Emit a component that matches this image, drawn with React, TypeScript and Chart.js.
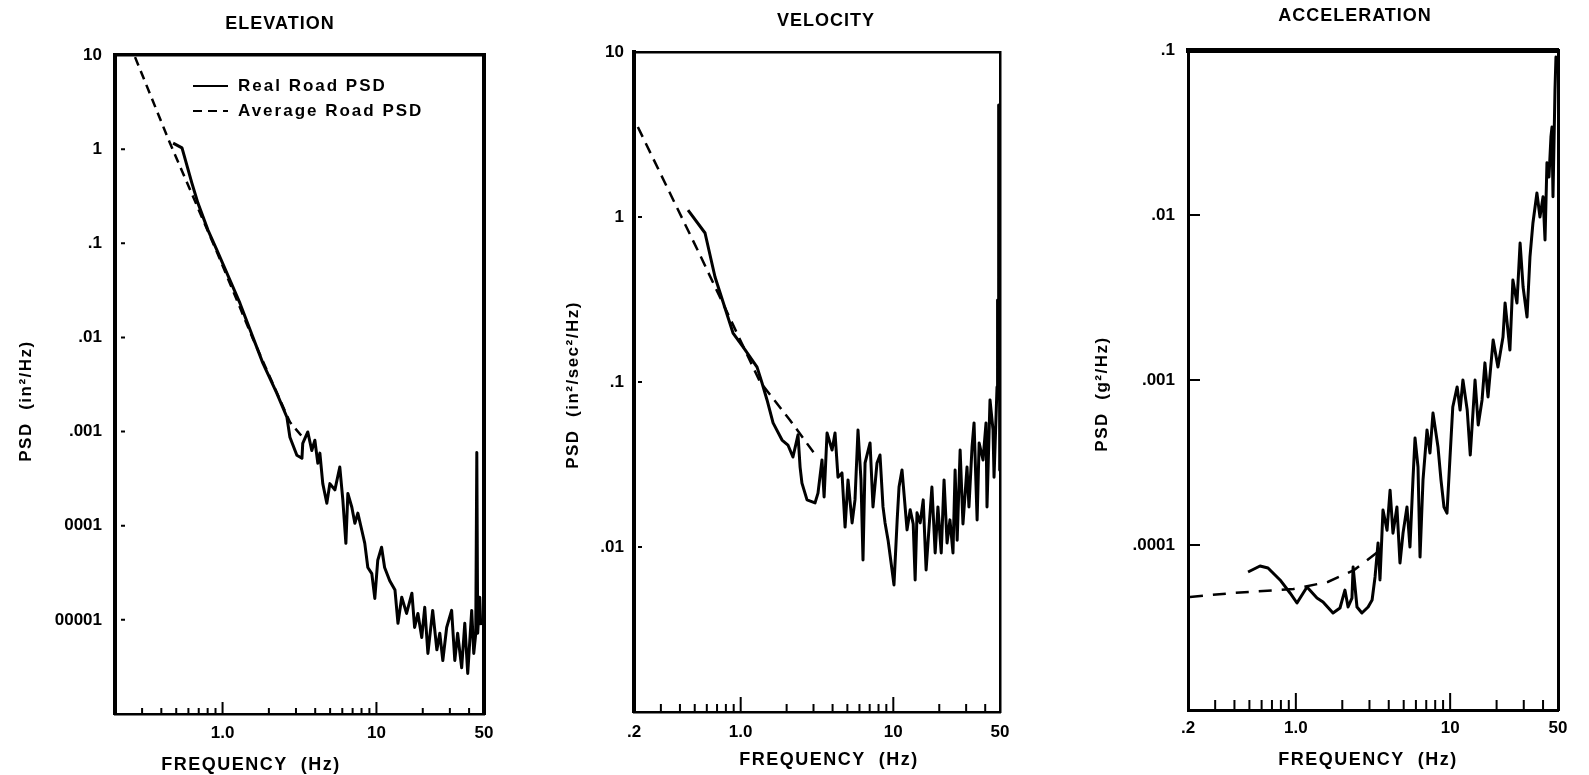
import React, { useEffect, useRef } from 'react';
import { Chart, registerables } from 'chart.js';
Chart.register(...registerables);

const FAMILY = '"Liberation Sans", Arial, sans-serif';

// ---------- Elevation ----------
const elevRealFreq = [0.477, 0.545, 0.632, 0.692, 0.804, 0.919, 1.117, 1.297, 1.574, 1.828, 2.25, 2.62, 2.74, 3.04, 3.28, 3.32, 3.58, 3.80, 3.98, 4.16, 4.29, 4.48, 4.76, 4.98, 5.37, 5.78, 6.05, 6.33, 6.52, 6.92, 7.24, 7.57, 8.04, 8.40, 8.79, 9.33, 9.76, 10.2, 10.8, 11.3, 12.2, 13.2, 13.8, 14.6, 15.7, 17.0, 17.7, 18.6, 19.7, 20.6, 21.6, 23.2, 24.7, 25.8, 27.0, 28.6, 30.8, 32.3, 33.7, 35.8, 37.5, 39.2, 41.6, 42.9, 44.2, 44.9, 45.5, 46.9, 47.6];
const elevRealPsd = [1.16, 1.03, 0.436, 0.267, 0.138, 0.0848, 0.0406, 0.0231, 0.01007, 0.00533, 0.00256, 0.00142, 8.7e-4, 5.6e-4, 5.2e-4, 7.5e-4, 9.9e-4, 6.3e-4, 8.1e-4, 4.6e-4, 5.9e-4, 2.8e-4, 1.73e-4, 2.8e-4, 2.4e-4, 4.2e-4, 1.87e-4, 6.5e-5, 2.2e-4, 1.57e-4, 1.06e-4, 1.36e-4, 8.9e-5, 6.5e-5, 3.6e-5, 3.1e-5, 1.69e-5, 4.3e-5, 5.9e-5, 3.6e-5, 2.6e-5, 2.07e-5, 9.2e-6, 1.74e-5, 1.17e-5, 1.92e-5, 8.3e-6, 1.17e-5, 6.5e-6, 1.36e-5, 4.4e-6, 1.26e-5, 4.8e-6, 7.2e-6, 3.7e-6, 8.3e-6, 1.26e-5, 3.7e-6, 7.2e-6, 3.1e-6, 9.2e-6, 2.7e-6, 1.26e-5, 4.4e-6, 7.2e-6, 6.0e-4, 7.2e-6, 1.74e-5, 8.8e-6];
const elevAvgFreq = [0.27, 0.455, 0.919, 1.574, 2.74, 3.32];
const elevAvgPsd = [9.5, 1.16, 0.0808, 0.0097, 1.26e-3, 8.7e-4];

// ---------- Velocity ----------
const velRealFreq = [0.452, 0.584, 0.679, 0.891, 1.036, 1.28, 1.38, 1.488, 1.63, 1.866, 2.04, 2.20, 2.375, 2.45, 2.52, 2.72, 3.07, 3.21, 3.41, 3.52, 3.68, 3.97, 4.15, 4.34, 4.61, 4.83, 5.05, 5.37, 5.61, 5.87, 6.14, 6.33, 6.53, 7.04, 7.36, 7.82, 8.18, 8.56, 8.83, 9.24, 9.81, 10.1, 10.6, 10.9, 11.4, 11.8, 12.3, 12.9, 13.5, 13.9, 14.3, 15.0, 15.7, 16.4, 17.1, 17.9, 18.8, 19.6, 20.6, 21.5, 22.5, 23.5, 24.6, 25.4, 26.2, 27.4, 28.6, 30.4, 31.3, 32.8, 33.8, 35.4, 36.5, 38.7, 40.5, 41.1, 43.0, 45.0, 45.7, 47.8, 48.2, 48.6, 49.0, 49.4, 49.7, 49.85, 50];
const velRealPsd = [1.10, 0.80, 0.433, 0.198, 0.163, 0.123, 0.0986, 0.0778, 0.0565, 0.0445, 0.0415, 0.0351, 0.0478, 0.0305, 0.0244, 0.0193, 0.0185, 0.0212, 0.0337, 0.0201, 0.0491, 0.0387, 0.0491, 0.0265, 0.0281, 0.0132, 0.0255, 0.0140, 0.0193, 0.0512, 0.0255, 0.00834, 0.0323, 0.0427, 0.0175, 0.0323, 0.0361, 0.0175, 0.0140, 0.0110, 0.00726, 0.00589, 0.0146, 0.0231, 0.0293, 0.0201, 0.0127, 0.0168, 0.0138, 0.00631, 0.0161, 0.0140, 0.0193, 0.00726, 0.0127, 0.0231, 0.0092, 0.0175, 0.0092, 0.0255, 0.01057, 0.0146, 0.0092, 0.0293, 0.0110, 0.0387, 0.0138, 0.0305, 0.0175, 0.0404, 0.0565, 0.0146, 0.0427, 0.0337, 0.0565, 0.0175, 0.0778, 0.0512, 0.0265, 0.0933, 0.314, 0.136, 4.77, 4.45, 0.238, 0.0293, 0.207];
const velAvgFreq = [0.212, 0.541, 1.34, 2.10, 3.16];
const velAvgPsd = [3.51, 0.589, 0.1, 0.0589, 0.0351];

// ---------- Acceleration ----------
const accRealFreq = [0.490, 0.586, 0.660, 0.790, 0.917, 1.017, 1.181, 1.371, 1.50, 1.741, 1.932, 2.08, 2.18, 2.31, 2.35, 2.49, 2.68, 2.94, 3.12, 3.26, 3.41, 3.51, 3.67, 3.90, 4.08, 4.26, 4.52, 4.73, 4.95, 5.25, 5.49, 5.74, 5.92, 6.19, 6.38, 6.67, 7.08, 7.40, 7.74, 8.34, 8.72, 9.12, 9.54, 9.98, 10.4, 11.1, 11.6, 12.1, 12.9, 13.5, 14.5, 15.2, 16.1, 16.8, 17.6, 19.0, 20.4, 22.0, 22.7, 24.4, 25.5, 27.1, 28.4, 29.7, 31.5, 32.9, 34.4, 36.5, 38.2, 40.0, 41.2, 42.4, 43.7, 45.0, 45.7, 46.4, 47.8, 48.5, 50];
const accRealPsd = [6.86e-5, 7.46e-5, 7.26e-5, 6.14e-5, 5.12e-5, 4.45e-5, 5.56e-5, 4.77e-5, 4.52e-5, 3.87e-5, 4.15e-5, 5.33e-5, 4.21e-5, 4.77e-5, 7.36e-5, 4.21e-5, 3.87e-5, 4.21e-5, 4.64e-5, 6.40e-5, 1.03e-4, 6.14e-5, 1.63e-4, 1.23e-4, 2.15e-4, 1.18e-4, 1.70e-4, 7.78e-5, 1.18e-4, 1.70e-4, 9.72e-5, 2.48e-4, 4.45e-4, 2.97e-4, 8.45e-5, 2.48e-4, 4.98e-4, 3.61e-4, 6.31e-4, 3.93e-4, 2.48e-4, 1.70e-4, 1.56e-4, 3.41e-4, 6.86e-4, 9.08e-4, 6.58e-4, 1.0e-3, 6.58e-4, 3.51e-4, 1.0e-3, 5.34e-4, 7.57e-4, 1.27e-3, 7.89e-4, 1.75e-3, 1.20e-3, 1.82e-3, 2.93e-3, 1.52e-3, 4.04e-3, 2.93e-3, 6.76e-3, 3.66e-3, 2.41e-3, 5.56e-3, 8.95e-3, 1.36e-2, 9.73e-3, 1.29e-2, 7.05e-3, 2.07e-2, 1.70e-2, 2.97e-2, 3.41e-2, 1.29e-2, 5.72e-2, 9.07e-2, 8.7e-2];
const accAvgFreq = [0.206, 0.393, 0.966, 1.61, 2.38, 3.40];
const accAvgPsd = [4.84e-5, 5.12e-5, 5.41e-5, 5.97e-5, 7.05e-5, 9.08e-5];

// ---------- ticks ----------
const freqTickValues = [0.2, 1, 10, 50];
const freqTickLabels = ['.2', '1.0', '10', '50'];
const minorFreqTicks = [0.3, 0.4, 0.5, 0.6, 0.7, 0.8, 0.9, 2, 3, 4, 5, 6, 7, 8, 9, 20, 30, 40];
const majorFreqTicks = [1, 10];
const elevYTickValues = [10, 1, 0.1, 0.01, 0.001, 0.0001, 0.00001];
const elevYTickLabels = ['10', '1', '.1', '.01', '.001', '0001', '00001'];
const velYTickValues = [10, 1, 0.1, 0.01];
const velYTickLabels = ['10', '1', '.1', '.01'];
const accYTickValues = [0.1, 0.01, 0.001, 0.0001];
const accYTickLabels = ['.1', '.01', '.001', '.0001'];

const seriesLabels = ['Real Road PSD', 'Average Road PSD'];

const W = 1589;
const H = 775;
const AXIS = 60;

const PANELS = [
  {
    title: 'ELEVATION', titlePos: [280, 24],
    xTitlePos: [251, 765], yTitle: 'PSD  (in\u00B2/Hz)', yTitlePos: [26, 401],
    area: { left: 115, top: 55, right: 484, bottom: 714 },
    yMin: 1e-6, yMax: 10,
    realF: elevRealFreq, realV: elevRealPsd, avgF: elevAvgFreq, avgV: elevAvgPsd,
    xTicks: [1, 10, 50], yTicks: elevYTickValues, yLabels: elevYTickLabels,
    yMarks: [1, 0.1, 0.01, 0.001, 0.0001, 0.00001], yMarkStart: 6, yMarkLen: 4,
    minorLen: 6, majorLen: 12, xPad: 9, yPad: 13,
    dash: [9, 6],
    borders: { left: 4, top: 3.5, right: 4, bottom: 2.5 },
    legend: true,
  },
  {
    title: 'VELOCITY', titlePos: [826, 21],
    xTitlePos: [829, 760], yTitle: 'PSD  (in\u00B2/sec\u00B2/Hz)', yTitlePos: [573, 385],
    area: { left: 634, top: 52, right: 1000, bottom: 712 },
    yMin: 1e-3, yMax: 10,
    realF: velRealFreq, realV: velRealPsd, avgF: velAvgFreq, avgV: velAvgPsd,
    xTicks: freqTickValues, yTicks: velYTickValues, yLabels: velYTickLabels,
    yMarks: [1, 0.1, 0.01], yMarkStart: 4, yMarkLen: 4,
    minorLen: 8, majorLen: 15, xPad: 10, yPad: 10,
    dash: [11, 7],
    borders: { left: 4, top: 2.5, right: 2.5, bottom: 2.5 },
    legend: false,
  },
  {
    title: 'ACCELERATION', titlePos: [1355, 16],
    xTitlePos: [1368, 760], yTitle: 'PSD  (g\u00B2/Hz)', yTitlePos: [1102, 394],
    area: { left: 1188, top: 50, right: 1558, bottom: 710 },
    yMin: 1e-5, yMax: 0.1,
    realF: accRealFreq, realV: accRealPsd, avgF: accAvgFreq, avgV: accAvgPsd,
    xTicks: freqTickValues, yTicks: accYTickValues, yLabels: accYTickLabels,
    yMarks: [0.01, 0.001, 0.0001], yMarkStart: 0, yMarkLen: 12,
    minorLen: 10, majorLen: 17, xPad: 8, yPad: 13,
    dash: [13, 10],
    borders: { left: 3, top: 5, right: 3, bottom: 3 },
    legend: false,
  },
];

function toPoints(xs: number[], ys: number[]) {
  return xs.map((x, i) => ({ x, y: ys[i] }));
}

function freqLabel(v: number) {
  const i = freqTickValues.indexOf(v);
  return i >= 0 ? freqTickLabels[i] : '';
}

function decorPlugin(p: any) {
  return {
    id: 'decor' + p.title,
    afterDatasetsDraw(chart: any) {
      const { ctx, chartArea: a, scales } = chart;
      const xs = scales.x;
      const ys = scales.y;
      ctx.save();
      ctx.strokeStyle = '#000';
      ctx.lineWidth = 2;
      ctx.setLineDash([]);
      ctx.beginPath();
      for (const v of minorFreqTicks) {
        const px = xs.getPixelForValue(v);
        ctx.moveTo(px, a.bottom);
        ctx.lineTo(px, a.bottom - p.minorLen);
      }
      for (const v of majorFreqTicks) {
        const px = xs.getPixelForValue(v);
        ctx.moveTo(px, a.bottom);
        ctx.lineTo(px, a.bottom - p.majorLen);
      }
      for (const v of p.yMarks) {
        const py = ys.getPixelForValue(v);
        ctx.moveTo(a.left + p.yMarkStart, py);
        ctx.lineTo(a.left + p.yMarkStart + p.yMarkLen, py);
      }
      ctx.stroke();

      ctx.fillStyle = '#000';
      ctx.textAlign = 'center';
      ctx.textBaseline = 'middle';
      ctx.font = `bold 18px ${FAMILY}`;
      (ctx as any).letterSpacing = '1px';
      ctx.fillText(p.title, p.titlePos[0], p.titlePos[1]);
      ctx.font = `bold 18px ${FAMILY}`;
      (ctx as any).letterSpacing = '1.5px';
      ctx.fillText('FREQUENCY  (Hz)', p.xTitlePos[0], p.xTitlePos[1]);
      ctx.save();
      ctx.translate(p.yTitlePos[0], p.yTitlePos[1]);
      ctx.rotate(-Math.PI / 2);
      ctx.font = `bold 17px ${FAMILY}`;
      (ctx as any).letterSpacing = '1.5px';
      ctx.fillText(p.yTitle, 0, 0);
      ctx.restore();

      if (p.legend) {
        const items = chart.data.datasets;
        const lx = a.left + 78;
        const ly = a.top + 31;
        items.forEach((ds: any, i: number) => {
          const y = ly + i * 25;
          ctx.save();
          ctx.strokeStyle = '#000';
          ctx.lineWidth = 2.2;
          ctx.setLineDash(ds.borderDash || []);
          ctx.beginPath();
          ctx.moveTo(lx, y);
          ctx.lineTo(lx + 35, y);
          ctx.stroke();
          ctx.restore();
          ctx.textAlign = 'left';
          ctx.font = `bold 17px ${FAMILY}`;
          (ctx as any).letterSpacing = '2px';
          ctx.fillText(ds.label, lx + 45, y);
        });
      }
      ctx.restore();
    },
  };
}

function makeChart(canvas: HTMLCanvasElement, p: any) {
  const tickFont = { family: FAMILY, size: 17, weight: 'bold' as const };
  return new Chart(canvas, {
    type: 'line',
    data: {
      datasets: [
        {
          label: seriesLabels[0],
          data: toPoints(p.realF, p.realV),
          borderColor: '#000',
          borderWidth: 3,
          pointRadius: 0,
          tension: 0,
          fill: false,
          borderJoinStyle: 'round',
        },
        {
          label: seriesLabels[1],
          data: toPoints(p.avgF, p.avgV),
          borderColor: '#000',
          borderWidth: 2.5,
          borderDash: p.dash,
          pointRadius: 0,
          tension: 0,
          fill: false,
        },
      ],
    },
    options: {
      responsive: false,
      animation: false,
      devicePixelRatio: 1,
      events: [],
      layout: {
        padding: {
          left: p.area.left - AXIS,
          top: p.area.top,
          right: W - p.area.right,
          bottom: H - p.area.bottom - AXIS,
        },
      },
      plugins: {
        legend: { display: false },
        title: { display: false },
        tooltip: { enabled: false },
      },
      scales: {
        x: {
          type: 'logarithmic',
          position: 'bottom',
          min: 0.2,
          max: 50,
          afterFit: (s: any) => { s.height = AXIS; },
          afterBuildTicks: (s: any) => { s.ticks = p.xTicks.map((v: number) => ({ value: v })); },
          ticks: {
            callback: (v: any) => freqLabel(Number(v)),
            font: tickFont,
            color: '#000',
            padding: p.xPad,
            maxRotation: 0,
            autoSkip: false,
          },
          grid: { display: false, drawTicks: false },
          border: { display: true, width: p.borders.bottom, color: '#000' },
        },
        y: {
          type: 'logarithmic',
          position: 'left',
          min: p.yMin,
          max: p.yMax,
          afterFit: (s: any) => { s.width = AXIS; },
          afterBuildTicks: (s: any) => { s.ticks = p.yTicks.map((v: number) => ({ value: v })); },
          ticks: {
            callback: (v: any) => {
              const i = p.yTicks.indexOf(Number(v));
              return i >= 0 ? p.yLabels[i] : '';
            },
            font: tickFont,
            color: '#000',
            padding: p.yPad,
            autoSkip: false,
          },
          grid: { display: false, drawTicks: false },
          border: { display: true, width: p.borders.left, color: '#000' },
        },
        x2: {
          type: 'linear',
          position: 'top',
          min: 0,
          max: 1,
          afterFit: (s: any) => { s.height = 0; },
          ticks: { display: false },
          grid: { display: false, drawTicks: false },
          border: { display: true, width: p.borders.top, color: '#000' },
        },
        y2: {
          type: 'linear',
          position: 'right',
          min: 0,
          max: 1,
          afterFit: (s: any) => { s.width = 0; },
          ticks: { display: false },
          grid: { display: false, drawTicks: false },
          border: { display: true, width: p.borders.right, color: '#000' },
        },
      },
    } as any,
    plugins: [decorPlugin(p)],
  });
}

export default function App() {
  const r1 = useRef<HTMLCanvasElement>(null);
  const r2 = useRef<HTMLCanvasElement>(null);
  const r3 = useRef<HTMLCanvasElement>(null);

  useEffect(() => {
    const refs = [r1, r2, r3];
    const charts = refs.map((r, i) => makeChart(r.current as HTMLCanvasElement, PANELS[i]));
    return () => charts.forEach((c) => c.destroy());
  }, []);

  const style: React.CSSProperties = { position: 'absolute', left: 0, top: 0, width: W, height: H };
  return (
    <div style={{ position: 'absolute', left: 0, top: 0, width: W, height: H, background: '#fff', overflow: 'hidden' }}>
      <canvas ref={r1} width={W} height={H} style={style} />
      <canvas ref={r2} width={W} height={H} style={style} />
      <canvas ref={r3} width={W} height={H} style={style} />
    </div>
  );
}
